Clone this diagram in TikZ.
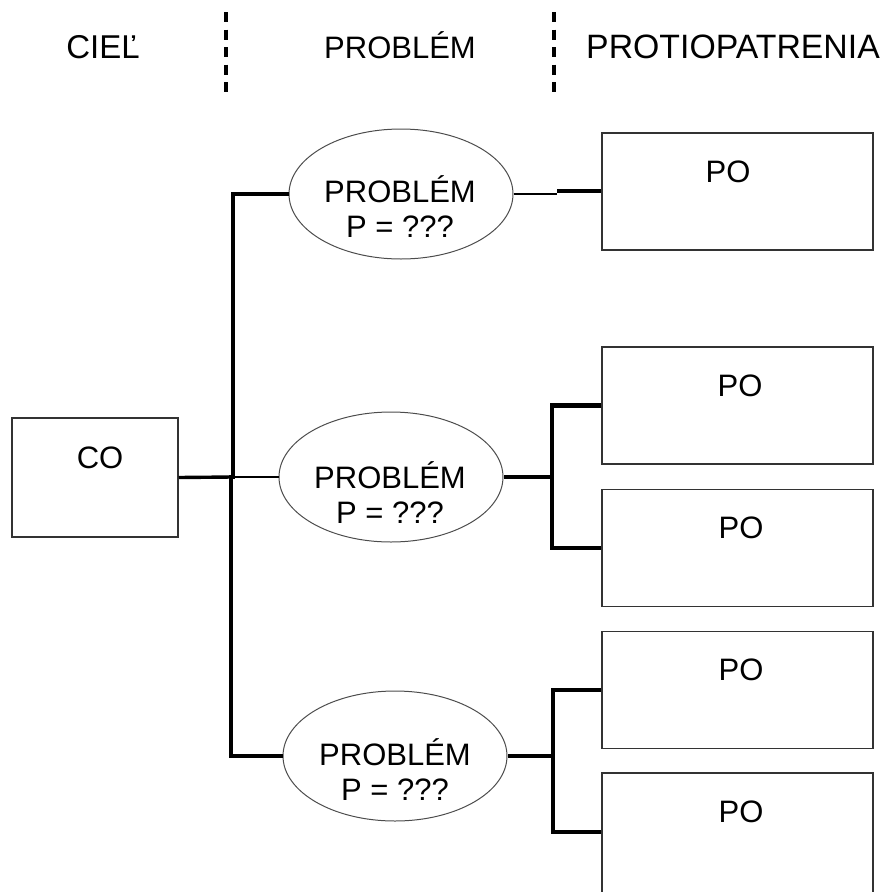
\documentclass[tikz,border=0pt]{standalone}
\usepackage{fontspec}
\setmainfont{Liberation Sans}
\usetikzlibrary{shapes.geometric,calc}
\begin{document}
\begin{tikzpicture}[x=1pt,y=-1pt,
  txt/.style={font=\fontsize{31}{35}\selectfont, inner sep=0pt, align=center},
  head/.style={inner sep=0pt},
  pobox/.style={draw=black!80, line width=1.5pt, fill=white},
  prob/.style={ellipse, draw=black!70, line width=1pt, inner sep=0pt,
    minimum width=224pt, minimum height=130pt},
  sep/.style={line width=3.2pt, dash pattern=on 10pt off 7.5pt},
  wire/.style={line width=3.4pt},
  trunk/.style={line width=4.4pt},
  thinwire/.style={line width=1.8pt}]
\useasboundingbox (0,0) rectangle (885,892);
\clip (0,0) rectangle (885,892);

% column headings and separators
\node[head, font=\fontsize{33}{36}\selectfont] (hgoal) at (103,47) {CIEĽ};
\node[head, font=\fontsize{31}{36}\selectfont] (hprob) at (400,45) {PROBLÉM};
\node[head, font=\fontsize{33.8}{36}\selectfont] (hcm) at (733,47) {PROTIOPATRENIA};
\coordinate (s1a) at (226,12); \coordinate (s1b) at (226,98);
\coordinate (s2a) at (554,12); \coordinate (s2b) at (554,98);
\draw[sep] (s1a) -- (s1b);
\draw[sep] (s2a) -- (s2b);

% goal box
\node[pobox, minimum width=166pt, minimum height=119pt, inner sep=0pt] (co) at (95,477.5) {};
\node[txt] (cot) at (100,458) {CO};

% problem ellipses
\node[prob] (p1) at (401,194) {};
\node[prob] (p2) at (391,477) {};
\node[prob] (p3) at (395,756) {};
\node[txt] (p1t) at (400,207) {PROBLÉM\\P = ???};
\node[txt] (p2t) at (390,493) {PROBLÉM\\P = ???};
\node[txt] (p3t) at (395,770) {PROBLÉM\\P = ???};

% countermeasure boxes
\tikzset{po/.style={pobox, minimum width=271pt, minimum height=117pt, inner sep=0pt}}
\node[po] (b1) at (737.5,191.5) {};
\node[po] (b2) at (737.5,405.5) {};
\node[po] (b3) at (737.5,548) {};
\node[po] (b4) at (737.5,690) {};
\node[po, minimum height=140pt] (b5) at (737.5,843) {};
\node[txt] (b1t) at (728,172) {PO};
\node[txt] (b2t) at (740,386) {PO};
\node[txt] (b3t) at (741,528) {PO};
\node[txt] (b4t) at (741,670) {PO};
\node[txt] (b5t) at (741,812) {PO};

% goal to problems
\coordinate (tj) at (232,477);
\draw[wire] (co.east) -- (tj);
\draw[trunk] (p1.west) -| (233,479);
\draw[trunk] (231,475) |- (p3.west);
\draw[thinwire] (tj) -- (p2.west);

% problems to countermeasures
\coordinate (k1) at (557,194);
\draw[thinwire, line width=2.4pt] (p1.east) -- (k1);
\draw[wire] (557,191) -- (b1.west |- 0,191);
\draw[wire] (p2.east) -- (552,477);
\draw[trunk] (b2.west) -| (552,477) |- (b3.west);
\draw[wire] (p3.east) -- (553,756);
\draw[trunk] (b4.west) -| (553,756) |- (b5.west |- 0,832);
\end{tikzpicture}
\end{document}
